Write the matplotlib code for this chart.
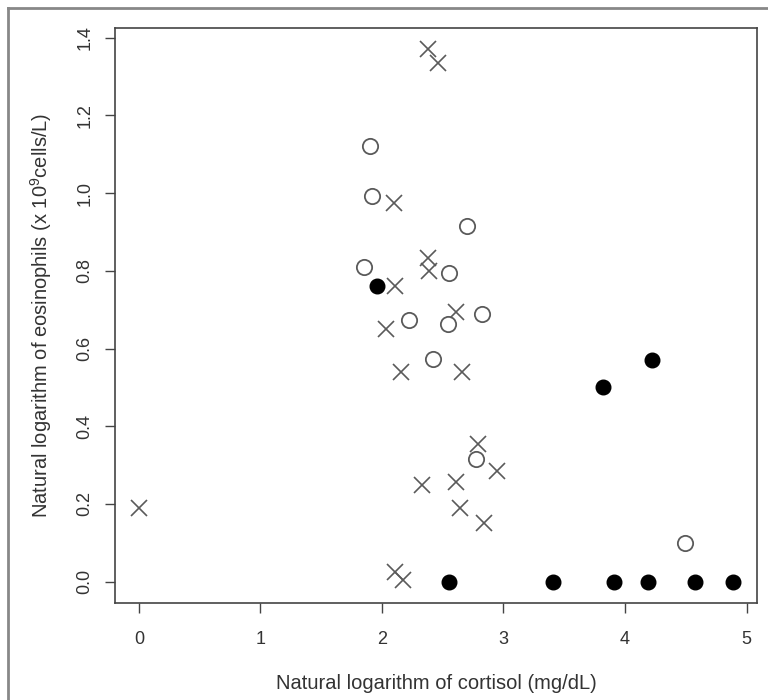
import matplotlib
matplotlib.use("Agg")
import matplotlib.pyplot as plt
from matplotlib.lines import Line2D

plt.rcParams['font.family'] = ['Liberation Sans', 'DejaVu Sans']
plt.rcParams['mathtext.default'] = 'regular'

# open circles
open_x = [1.90, 1.92, 1.85, 2.70, 2.55, 2.22, 2.54, 2.82, 2.42, 2.77, 4.49]
open_y = [1.12, 0.992, 0.81, 0.915, 0.795, 0.674, 0.664, 0.69, 0.574, 0.315, 0.10]

# filled circles
filled_x = [1.96, 3.82, 4.22, 2.55, 3.41, 3.91, 4.19, 4.58, 4.89]
filled_y = [0.76, 0.50, 0.57, 0.0, 0.0, 0.0, 0.0, 0.0, 0.0]

# crosses
cross_x = [0.0, 2.38, 2.46, 2.10, 2.38, 2.39, 2.11, 2.03, 2.61, 2.16, 2.66,
           2.79, 2.33, 2.61, 2.95, 2.64, 2.84, 2.11, 2.17]
cross_y = [0.19, 1.372, 1.336, 0.975, 0.833, 0.80, 0.76, 0.65, 0.695, 0.54, 0.54,
           0.354, 0.248, 0.256, 0.285, 0.19, 0.151, 0.026, 0.003]

x_ticks = [0, 1, 2, 3, 4, 5]
y_ticks = [0.0, 0.2, 0.4, 0.6, 0.8, 1.0, 1.2, 1.4]

gray = "#5a5a5a"
txt = "#333333"

fig = plt.figure(figsize=(7.68, 7.0), dpi=100)
ax = fig.add_axes([115 / 768, 1 - 603 / 700, 642 / 768, 575 / 700])

ax.plot(cross_x, cross_y, linestyle="none", marker="x", markersize=12,
        markeredgewidth=1.2, color=gray)
ax.plot(open_x, open_y, linestyle="none", marker="o", markersize=11,
        markerfacecolor="white", markeredgecolor=gray, markeredgewidth=1.3)
ax.plot(filled_x, filled_y, linestyle="none", marker="o", markersize=10.5,
        color="black")

ax.set_xlim(-0.196, 5.086)
ax.set_ylim(-0.055, 1.425)
ax.set_xticks(x_ticks)
ax.set_xticklabels([str(v) for v in x_ticks])
ax.set_yticks(y_ticks)
ax.set_yticklabels([f"{v:.1f}" for v in y_ticks], rotation=90, va="center")

for s in ax.spines.values():
    s.set_color("#444444")
    s.set_linewidth(1.2)
ax.tick_params(direction="out", length=7.5, width=1, color="#444444",
               labelsize=13, labelcolor=txt)
ax.tick_params(axis="x", pad=12.5)
ax.tick_params(axis="y", pad=8)

ax.set_xlabel("Natural logarithm of cortisol (mg/dL)", fontsize=14.5, color=txt,
              labelpad=19)
ax.set_ylabel("Natural logarithm of eosinophils (x 10$^{9}$cells/L)", fontsize=14.5,
              color=txt, labelpad=16)

# outer frame (only left and top visible in the crop)
fig.add_artist(Line2D([8 / 768, 8 / 768], [0, 1 - 8 / 700], transform=fig.transFigure,
                      color="#888888", linewidth=2))
fig.add_artist(Line2D([8 / 768, 1], [1 - 8 / 700, 1 - 8 / 700], transform=fig.transFigure,
                      color="#888888", linewidth=2))

fig.savefig("out.png", dpi=100)
